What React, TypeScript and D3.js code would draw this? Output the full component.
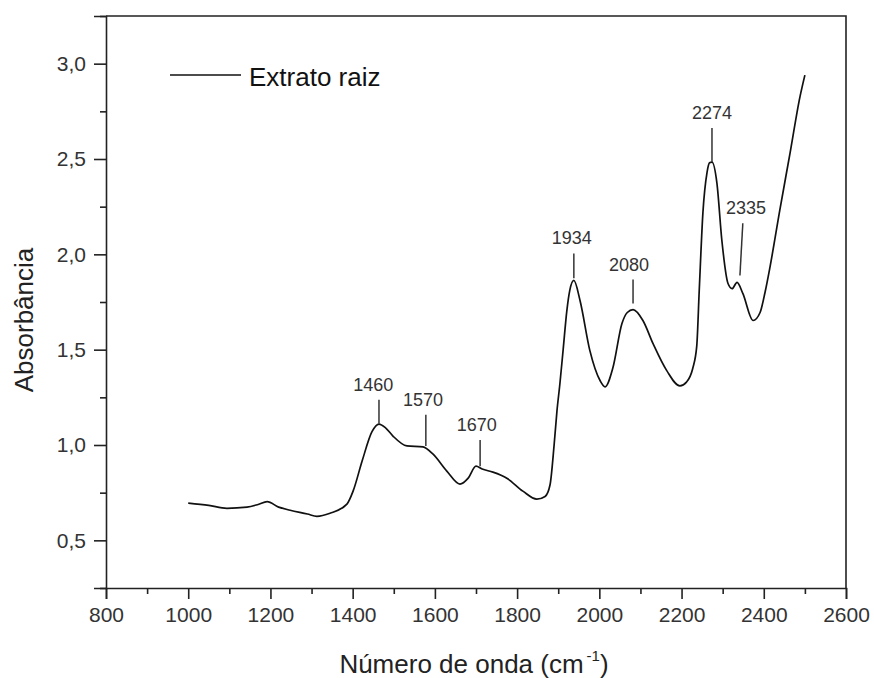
import React, { useEffect, useRef } from "react";
import * as d3 from "d3";

const wavenumbers = [
  1000, 1050, 1094, 1143, 1170, 1192, 1220, 1248, 1290, 1313, 1345, 1386, 1401, 1423,
  1447, 1464, 1480, 1498, 1532, 1571, 1595, 1629, 1661, 1681, 1700, 1715, 1741, 1775,
  1814, 1848, 1868, 1880, 1890, 1897, 1904, 1912, 1921, 1928, 1938, 1953, 1977, 2002,
  2014, 2033, 2055, 2068, 2082, 2106, 2131, 2164, 2196, 2212, 2227, 2237, 2243, 2252,
  2262, 2268, 2274, 2286, 2298, 2313, 2323, 2335, 2349, 2374, 2391, 2403, 2415, 2439,
  2464, 2488, 2500,
];
const absorbance = [
  0.695, 0.683, 0.668, 0.674, 0.688, 0.703, 0.674, 0.658, 0.638, 0.626, 0.642, 0.69, 0.758, 0.916,
  1.07, 1.11, 1.09, 1.047, 0.995, 0.99, 0.953, 0.863, 0.795, 0.826, 0.889, 0.874, 0.858, 0.826,
  0.758, 0.716, 0.73, 0.79, 1.0, 1.18, 1.32, 1.5, 1.705, 1.81, 1.863, 1.758, 1.495, 1.337,
  1.305, 1.405, 1.637, 1.695, 1.71, 1.653, 1.53, 1.39, 1.31, 1.33, 1.4, 1.52, 1.81, 2.22,
  2.43, 2.48, 2.484, 2.374, 2.074, 1.847, 1.82, 1.853, 1.795, 1.653, 1.695, 1.8, 1.932, 2.232,
  2.532, 2.826, 2.94,
];

const xMajorTicks = [800, 1000, 1200, 1400, 1600, 1800, 2000, 2200, 2400, 2600];
const xMinorTicks = [900, 1100, 1300, 1500, 1700, 1900, 2100, 2300, 2500];
const yMajorTicks = [0.5, 1.0, 1.5, 2.0, 2.5, 3.0];
const yMinorTicks = [0.25, 0.75, 1.25, 1.75, 2.25, 2.75, 3.25];

const peakLabels = ["1460", "1570", "1670", "1934", "2080", "2274", "2335"];
const peakLabelX = [1450, 1571, 1702, 1933, 2072, 2274, 2357];
const peakLineXTop = [1464, 1578, 1710, 1938, 2082, 2274, 2349];
const peakLineXBottom = [1464, 1578, 1710, 1938, 2082, 2274, 2342];
const peakLineTop = [1.237, 1.158, 1.026, 2.005, 1.868, 2.663, 2.163];
const peakLineBottom = [1.111, 0.995, 0.889, 1.874, 1.742, 2.484, 1.889];

const seriesName = "Extrato raiz";
const xTitle = "Número de onda (cm";
const xTitleSup = "-1";
const yTitle = "Absorbância";

const W = 874;
const H = 678;
const M = { left: 106, right: 846, top: 16, bottom: 588 };
const FONT = "'Liberation Sans', Arial, Helvetica, sans-serif";

export default function App() {
  const ref = useRef<SVGSVGElement>(null);

  useEffect(() => {
    const svg = d3.select(ref.current);
    svg.selectAll("*").remove();

    const x = d3.scaleLinear().domain([800, 2600]).range([M.left, M.right]);
    const y = d3.scaleLinear().domain([0.25, 3.25]).range([M.bottom, M.top]);
    const fmt = (v: number) => d3.format(".1f")(v).replace(".", ",");

    // frame (top & right)
    svg.append("path")
      .attr("d", `M${M.left},${M.top}H${M.right}V${M.bottom}`)
      .attr("fill", "none")
      .attr("stroke", "#222")
      .attr("stroke-width", 1.6);

    const gxMinor = svg.append("g").attr("transform", `translate(0,${M.bottom})`)
      .call(d3.axisBottom(x).tickValues(xMinorTicks).tickSize(6).tickFormat(() => ""));
    const gyMinor = svg.append("g").attr("transform", `translate(${M.left},0)`)
      .call(d3.axisLeft(y).tickValues(yMinorTicks).tickSize(6).tickFormat(() => ""));

    const gx = svg.append("g").attr("transform", `translate(0,${M.bottom})`)
      .call(d3.axisBottom(x).tickValues(xMajorTicks).tickSize(11).tickPadding(8).tickFormat((d) => String(d)));
    const gy = svg.append("g").attr("transform", `translate(${M.left},0)`)
      .call(d3.axisLeft(y).tickValues(yMajorTicks).tickSize(12).tickPadding(8).tickFormat((d) => fmt(d as number)));

    for (const g of [gxMinor, gyMinor, gx, gy]) {
      g.select(".domain").attr("stroke", "#222").attr("stroke-width", 1.6);
      g.selectAll(".tick line").attr("stroke", "#222").attr("stroke-width", 1.6);
      g.selectAll(".tick text")
        .attr("font-family", FONT)
        .attr("font-size", 21)
        .attr("fill", "#333");
    }
    gyMinor.select(".domain").remove();
    gxMinor.select(".domain").remove();

    const pts = wavenumbers.map((w, i) => [w, absorbance[i]] as [number, number]);
    const line = d3.line<[number, number]>()
      .x((d) => x(d[0]))
      .y((d) => y(d[1]))
      .curve(d3.curveMonotoneX);
    svg.append("path")
      .datum(pts)
      .attr("d", line)
      .attr("fill", "none")
      .attr("stroke", "#111")
      .attr("stroke-width", 1.7)
      .attr("stroke-linejoin", "round");

    peakLabels.forEach((lab, i) => {
      svg.append("line")
        .attr("x1", x(peakLineXTop[i]))
        .attr("x2", x(peakLineXBottom[i]))
        .attr("y1", y(peakLineTop[i]))
        .attr("y2", y(peakLineBottom[i]))
        .attr("stroke", "#333")
        .attr("stroke-width", 1.5);
      svg.append("text")
        .attr("x", x(peakLabelX[i]))
        .attr("y", y(peakLineTop[i]) - 9)
        .attr("text-anchor", "middle")
        .attr("font-family", FONT)
        .attr("font-size", 18)
        .attr("fill", "#333")
        .text(lab);
    });

    svg.append("line")
      .attr("x1", 170).attr("x2", 241).attr("y1", 75).attr("y2", 75)
      .attr("stroke", "#111").attr("stroke-width", 1.6);
    svg.append("text")
      .attr("x", 249).attr("y", 86)
      .attr("font-family", FONT).attr("font-size", 26).attr("fill", "#111")
      .text(seriesName);

    const xt = svg.append("text")
      .attr("x", 474).attr("y", 673)
      .attr("text-anchor", "middle")
      .attr("font-family", FONT).attr("font-size", 26).attr("fill", "#222");
    xt.append("tspan").text(xTitle);
    xt.append("tspan").attr("font-size", 15).attr("dx", 3).attr("dy", -12).text(xTitleSup);
    xt.append("tspan").attr("dy", 12).text(")");

    svg.append("text")
      .attr("transform", `translate(33,320) rotate(-90)`)
      .attr("text-anchor", "middle")
      .attr("font-family", FONT).attr("font-size", 26).attr("fill", "#222")
      .text(yTitle);
  }, []);

  return (
    <div style={{ position: "absolute", left: 0, top: 0 }}>
      <svg ref={ref} width={W} height={H} style={{ display: "block", background: "#fff" }} />
    </div>
  );
}
